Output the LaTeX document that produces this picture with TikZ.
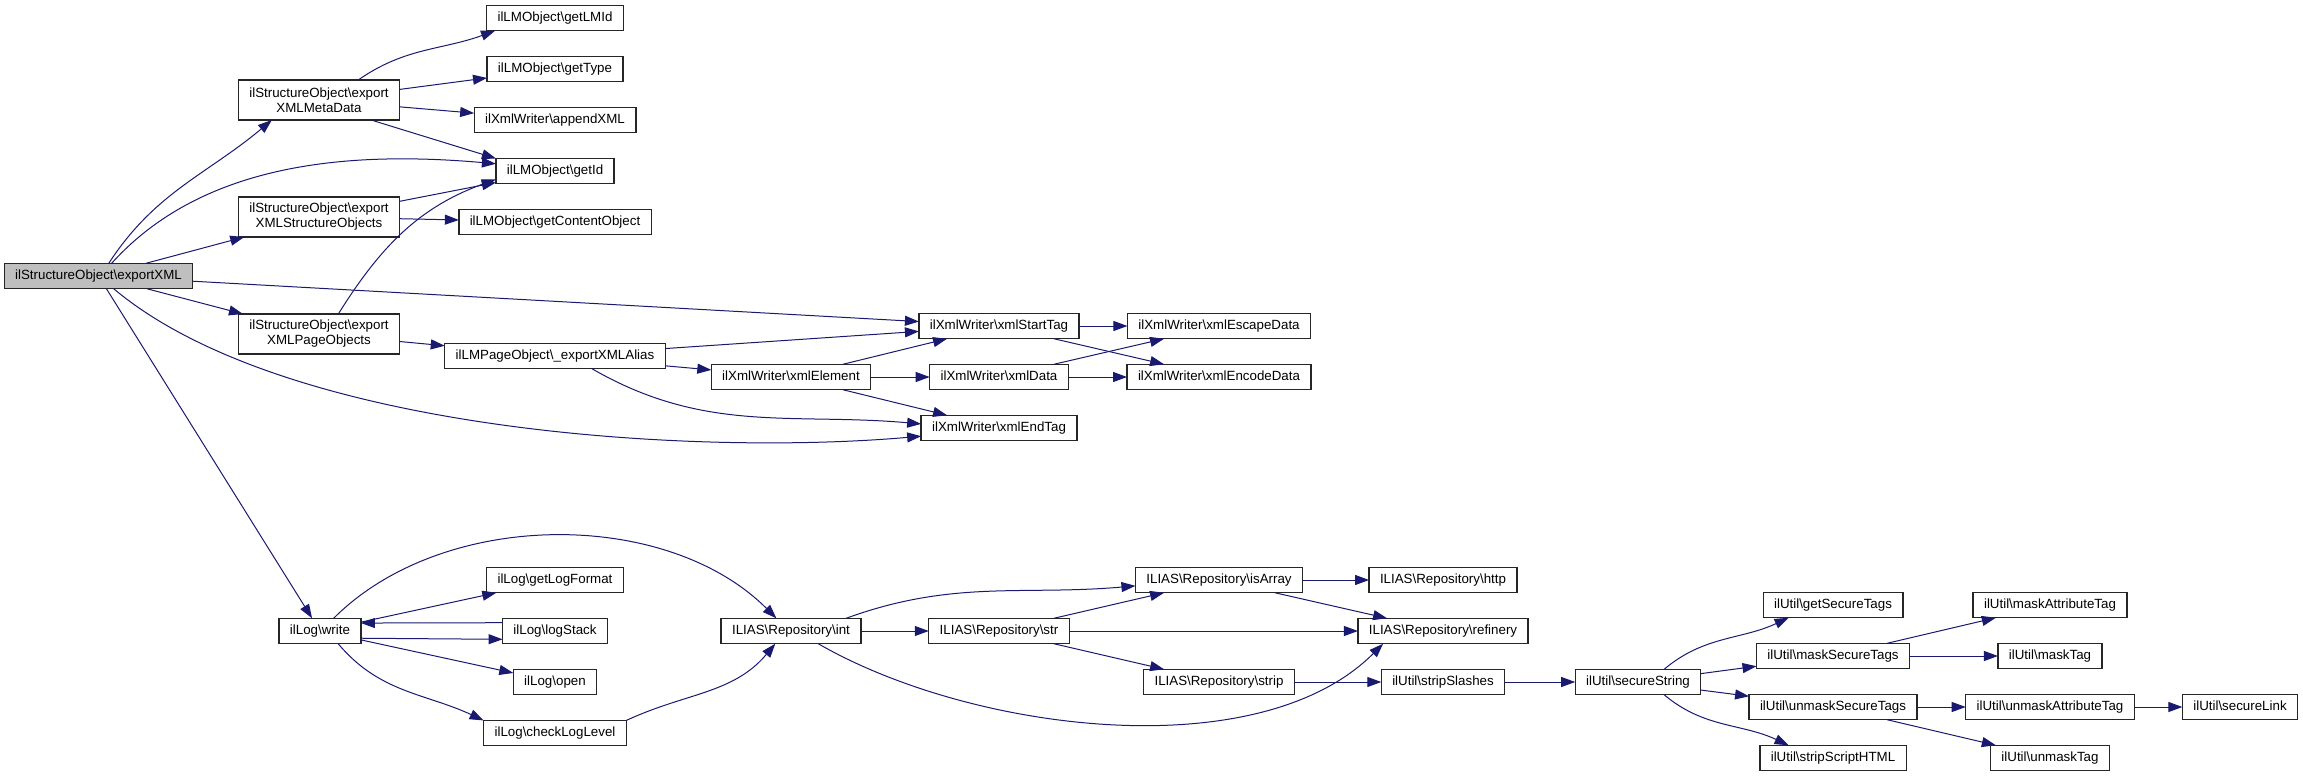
\documentclass[tikz,border=0pt]{standalone}
\usepackage{fontspec}
\setmainfont{Liberation Sans}
\usepackage{tikz}
\usetikzlibrary{arrows.meta,positioning}
\definecolor{calledge}{HTML}{191970}
\newcommand{\bsl}{\textbackslash}
\tikzset{
	box/.style={draw=black!85,fill=white,line width=1pt,inner xsep=8.2pt,inner ysep=1pt,outer sep=0pt,font=\fontsize{10pt}{11.3pt}\selectfont},
	func/.style={box,minimum height=19.1pt,text height=7.4pt,text depth=2.1pt},
	func2/.style={box,minimum height=30pt,align=center},
	focus/.style={func,fill=black!25},
	call/.style={color=calledge,line width=0.75pt,-{Triangle[length=10.5pt,width=7.5pt]}}
}

\begin{document}
\begin{tikzpicture}[x=0.75pt,y=0.75pt,node distance=19.15pt]
	\useasboundingbox (0,0) rectangle (2303,-776);
	\node[focus](root) at (98.5,-276){ilStructureObject\bsl exportXML};
	\node[func2](meta) at (319,-100){ilStructureObject\bsl export\\XMLMetaData};
	\node[func2](structobj) at (319,-217){ilStructureObject\bsl export\\XMLStructureObjects};
	\node[func2](pageobj) at (319,-334){ilStructureObject\bsl export\\XMLPageObjects};
	\node[func](lmid) at (555,-18){ilLMObject\bsl getLMId};
	\node[func](type)[below = of lmid]{ilLMObject\bsl getType};
	\node[func](append)[below = of type]{ilXmlWriter\bsl appendXML};
	\node[func](id)[below = of append]{ilLMObject\bsl getId};
	\node[func](cobj)[below = of id]{ilLMObject\bsl getContentObject};
	\node[func](alias) at (555,-356){ilLMPageObject\bsl \_exportXMLAlias};
	\node[func](element) at (791,-377){ilXmlWriter\bsl xmlElement};
	\node[func](starttag) at (999,-326){ilXmlWriter\bsl xmlStartTag};
	\node[func](data)[below = of starttag]{ilXmlWriter\bsl xmlData};
	\node[func](endtag)[below = of data]{ilXmlWriter\bsl xmlEndTag};
	\node[func](escape) at (1219,-326){ilXmlWriter\bsl xmlEscapeData};
	\node[func](encode)[below = of escape]{ilXmlWriter\bsl xmlEncodeData};
	\node[func](write) at (320,-631){ilLog\bsl write};
	\node[func](logfmt) at (555,-580){ilLog\bsl getLogFormat};
	\node[func](logstack)[below = of logfmt]{ilLog\bsl logStack};
	\node[func](open)[below = of logstack]{ilLog\bsl open};
	\node[func](loglevel)[below = of open]{ilLog\bsl checkLogLevel};
	\node[func](int) at (791,-631){ILIAS\bsl Repository\bsl int};
	\node[func](str) at (999,-631){ILIAS\bsl Repository\bsl str};
	\node[func](isarray) at (1219,-580){ILIAS\bsl Repository\bsl isArray};
	\node[func](strip) at (1219,-682){ILIAS\bsl Repository\bsl strip};
	\node[func](http) at (1443,-580){ILIAS\bsl Repository\bsl http};
	\node[func](refinery)[below = of http]{ILIAS\bsl Repository\bsl refinery};
	\node[func](slashes)[below = of refinery]{ilUtil\bsl stripSlashes};
	\node[func](secstr) at (1638,-682){ilUtil\bsl secureString};
	\node[func](gettags) at (1833,-605){ilUtil\bsl getSecureTags};
	\node[func](masktags)[below = of gettags]{ilUtil\bsl maskSecureTags};
	\node[func](unmasktags)[below = of masktags]{ilUtil\bsl unmaskSecureTags};
	\node[func](scripthtml)[below = of unmasktags]{ilUtil\bsl stripScriptHTML};
	\node[func](maskattr) at (2050,-605){ilUtil\bsl maskAttributeTag};
	\node[func](masktag)[below = of maskattr]{ilUtil\bsl maskTag};
	\node[func](unmaskattr)[below = of masktag]{ilUtil\bsl unmaskAttributeTag};
	\node[func](unmasktag)[below = of unmaskattr]{ilUtil\bsl unmaskTag};
	\node[func](link) at (2240,-707){ilUtil\bsl secureLink};
	\path[call](root.51) edge[out=57,in=-140] (meta.-157);
	\path[call](root.44) edge[out=48,in=175,looseness=0.9] (id.173);
	\path[call](root) edge (structobj);
	\path[call](root) edge (starttag);
	\path[call](root) edge (pageobj);
	\path[call](root.-40) edge[out=-40,in=-175,looseness=0.7] (endtag.-174);
	\path[call](root) edge (write);
	\path[call](meta.27) edge[out=35,in=-160] (lmid.-168);
	\path[call](meta) edge (type);
	\path[call](meta) edge (append);
	\path[call](meta.-21) edge (id.168);
	\path[call](structobj) edge (id);
	\path[call](structobj) edge (cobj);
	\path[call](pageobj.46) edge[out=58,in=-160] (id.-172);
	\path[call](pageobj) edge (alias);
	\path[call](alias) edge (starttag);
	\path[call](alias) edge (element);
	\path[call](alias.-19) edge[out=-30,in=175] (endtag.177);
	\path[call](element) edge (starttag);
	\path[call](element) edge (data);
	\path[call](element) edge (endtag);
	\path[call](starttag) edge (escape);
	\path[call](starttag) edge (encode);
	\path[call](data) edge (escape);
	\path[call](data) edge (encode);
	\path[call](write.43) edge[out=45,in=135,looseness=0.9] (int.139);
	\path[call](write) edge (logfmt);
	\path[call](write.-10) edge (logstack.-171);
	\path[call](logstack.171) edge (write.11);
	\path[call](write) edge (open);
	\path[call](write.-35) edge[out=-50,in=155] (loglevel.170);
	\path[call](loglevel.10) edge[out=25,in=-130] (int.-141);
	\path[call](int.13) edge[out=20,in=-175] (isarray.-176);
	\path[call](int) edge (str);
	\path[call](int.-25) edge[out=-30,in=-135,looseness=0.8] (refinery.-168);
	\path[call](str) edge (isarray);
	\path[call](str) edge (refinery);
	\path[call](str) edge (strip);
	\path[call](isarray) edge (http);
	\path[call](isarray) edge (refinery);
	\path[call](strip) edge (slashes);
	\path[call](slashes) edge (secstr);
	\path[call](secstr.26) edge[out=40,in=-155] (gettags.-164);
	\path[call](secstr) edge (masktags);
	\path[call](secstr) edge (unmasktags);
	\path[call](secstr.-26) edge[out=-40,in=155] (scripthtml.164);
	\path[call](masktags) edge (maskattr);
	\path[call](masktags) edge (masktag);
	\path[call](unmasktags) edge (unmaskattr);
	\path[call](unmasktags) edge (unmasktag);
	\path[call](unmaskattr) edge (link);
\end{tikzpicture}
\end{document}
